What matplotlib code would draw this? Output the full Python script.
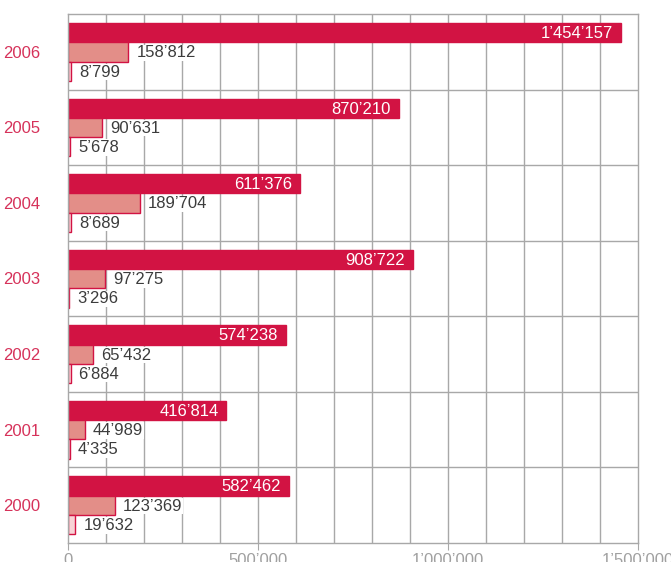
import matplotlib
matplotlib.use('Agg')
import matplotlib.pyplot as plt
import numpy as np

years = ['2006', '2005', '2004', '2003', '2002', '2001', '2000']
series_a = [1454157, 870210, 611376, 908722, 574238, 416814, 582462]
series_b = [158812, 90631, 189704, 97275, 65432, 44989, 123369]
series_c = [8799, 5678, 8689, 3296, 6884, 4335, 19632]
x_ticks = [0, 500000, 1000000, 1500000]

CRIMSON = '#D21343'
SALMON = '#E38E88'
PINK = '#F8D3D6'
GRID = '#A8A8A8'
TEXT = '#3C3C3C'

plt.rcParams['font.family'] = ['Liberation Sans', 'DejaVu Sans']


def fmt(v):
    return f'{v:,}'.replace(',', '\u2019')


fig = plt.figure(figsize=(6.71, 5.62), dpi=100)
ax = fig.add_axes([68 / 671, 1 - 543 / 562, 570 / 671, 529 / 562])

ax.set_xlim(0, 1500000)
ax.set_ylim(len(years), 0)

# grid
for xv in range(100000, 1500000, 100000):
    ax.axvline(xv, color=GRID, lw=1, zorder=0)
for k in range(1, len(years)):
    ax.axhline(k, color=GRID, lw=1, zorder=0)

h = 0.255
off = 0.12
pos = np.arange(len(years))
ax.barh(pos + off + h / 2, series_a, height=h, color=CRIMSON,
        edgecolor=CRIMSON, lw=1, zorder=2)
ax.barh(pos + off + 1.5 * h, series_b, height=h, color=SALMON,
        edgecolor=CRIMSON, lw=1, zorder=2)
ax.barh(pos + off + 2.5 * h, series_c, height=h, color=PINK,
        edgecolor=CRIMSON, lw=1, zorder=2)

dx = 1500000 / 570 * 8
for i in range(len(years)):
    ax.text(series_a[i] - dx, i + off + h / 2 + 0.01, fmt(series_a[i]),
            color='white', fontsize=12, ha='right', va='center', zorder=3)
    ax.text(series_b[i] + dx, i + off + 1.5 * h + 0.01, fmt(series_b[i]),
            color=TEXT, fontsize=12, ha='left', va='center', zorder=3,
            bbox=dict(facecolor='white', edgecolor='none', pad=0.5))
    ax.text(series_c[i] + dx, i + off + 2.5 * h + 0.01, fmt(series_c[i]),
            color=TEXT, fontsize=12, ha='left', va='center', zorder=3,
            bbox=dict(facecolor='white', edgecolor='none', pad=0.5))

ax.set_yticks(pos + 0.5)
ax.set_yticklabels(years, color='#D6325A', fontsize=12)
ax.tick_params(axis='y', length=0, pad=20)

ax.set_xticks(x_ticks)
ax.set_xticklabels([fmt(v) for v in x_ticks], color='#A0A0A0', fontsize=12)
ax.tick_params(axis='x', length=5, color=GRID, pad=2)

for s in ax.spines.values():
    s.set_color(GRID)
    s.set_linewidth(1)

fig.savefig('out.png', dpi=100, facecolor='white')
